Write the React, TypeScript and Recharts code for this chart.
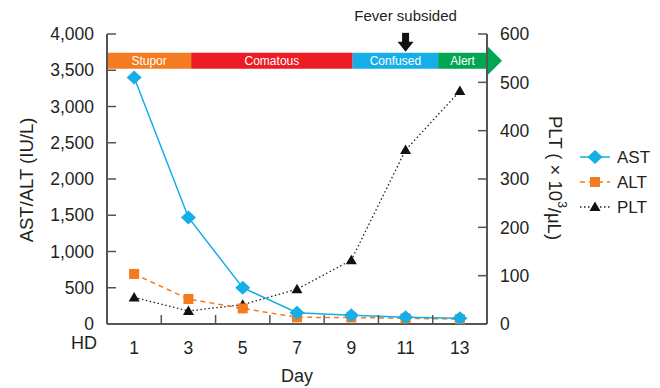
import { LineChart, Line, XAxis, YAxis, Legend, ReferenceArea, ReferenceDot } from "recharts";

const days = [1, 3, 5, 7, 9, 11, 13];
const ast = [3400, 1470, 500, 155, 122, 92, 78];
const alt = [690, 345, 215, 92, 90, 78, 68];
const plt = [55, 27, 40, 72, 132, 360, 482];

const leftTicks = [0, 500, 1000, 1500, 2000, 2500, 3000, 3500, 4000];
const rightTicks = [0, 100, 200, 300, 400, 500, 600];
const gridTicks = [2, 4, 6, 8, 10, 12];

const stages = ["Stupor", "Comatous", "Confused", "Alert"];
const stageFrom = [0, 3.1, 9.05, 12.2];
const stageTo = [3.1, 9.05, 12.2, 14];
const feverDay = 11;
const feverText = "Fever subsided";

const legendOrder = ["AST", "ALT", "PLT"];

const FONT = "'Liberation Sans', Arial, sans-serif";
const INK = "#231f20";
const AXIS = "#555557";
const BLUE = "#16aee8";
const ORANGE = "#f47b20";
const stageColors = ["#f47b20", "#ed1c24", "#16aee8", "#00a651"];

const rows = days.map((d, i) => ({ day: d, AST: ast[i], ALT: alt[i], PLT: plt[i] }));

const diamond = (cx: number, cy: number, key?: any) => (
  <polygon key={key} points={`${cx},${cy - 7} ${cx + 7.5},${cy} ${cx},${cy + 7} ${cx - 7.5},${cy}`} fill={BLUE} />
);
const square = (cx: number, cy: number, key?: any) => (
  <rect key={key} x={cx - 5} y={cy - 5} width={10} height={10} fill={ORANGE} />
);
const triangle = (cx: number, cy: number, key?: any) => (
  <polygon key={key} points={`${cx},${cy - 5.5} ${cx + 5.5},${cy + 4} ${cx - 5.5},${cy + 4}`} fill="#111" />
);
const markers: any = { AST: diamond, ALT: square, PLT: triangle };

// y-axis tick: label outside, short tick mark pointing into the plot
const yTick = (side: "left" | "right") => (p: any) => {
  const dir = side === "left" ? 1 : -1;
  const ax = p.x + dir * 13;
  const label = p.payload.value.toLocaleString("en-US");
  return (
    <g>
      <line x1={ax} x2={ax + dir * 9} y1={p.y} y2={p.y} stroke={AXIS} strokeWidth={1.5} />
      <text x={p.x} y={p.y} dy="0.355em" textAnchor={side === "left" ? "end" : "start"}
        fontSize={17.5} fill={INK} fontFamily={FONT}>{label}</text>
    </g>
  );
};

const gridTick = (p: any) => (
  <line x1={p.x} x2={p.x} y1={p.y} y2={p.y - 9} stroke={AXIS} strokeWidth={1.5} />
);

function LegendBox({ payload }: any) {
  const items = legendOrder.map((name) => (payload || []).find((p: any) => p.value === name)).filter(Boolean);
  return (
    <svg width={85} height={75}>
      {items.map((p: any, i: number) => {
        const y = 12 + i * 25;
        return (
          <g key={p.value}>
            <line x1={2} x2={32} y1={y} y2={y} stroke={p.color} strokeWidth={1.5}
              strokeDasharray={p.payload?.strokeDasharray} />
            {markers[p.value](17, y)}
            <text x={39} y={y} dominantBaseline="central" fontSize={17} fill={INK} fontFamily={FONT}>{p.value}</text>
          </g>
        );
      })}
    </svg>
  );
}

function AlertArrow(props: any) {
  const { x, y, width, height, fill } = props;
  const r = x + width;
  return (
    <path
      d={`M${x},${y} H${r} V${y - 7} L${r + 15},${y + height / 2} L${r},${y + height + 7} V${y + height} H${x} Z`}
      fill={fill}
    />
  );
}

function FeverMark({ cx, cy }: any) {
  return (
    <g>
      <rect x={cx - 3.5} y={cy - 20} width={7} height={10} fill="#111" />
      <polygon points={`${cx - 8},${cy - 11} ${cx + 8},${cy - 11} ${cx},${cy - 1}`} fill="#111" />
      <text x={cx} y={cy - 37} textAnchor="middle" dominantBaseline="central" fontSize={15} fill={INK} fontFamily={FONT}>
        {feverText}
      </text>
    </g>
  );
}

export default function App() {
  const tickStyle = { fontSize: 17.5, fill: INK, fontFamily: FONT };
  return (
    <div style={{ position: "absolute", left: 0, top: 0 }}>
      <LineChart width={660} height={388} data={rows} margin={{ top: 34, right: 0, bottom: 0, left: 0 }}>
        <XAxis xAxisId="grid" dataKey="day" type="number" domain={[0, 14]} ticks={gridTicks} interval={0}
          tick={gridTick} tickLine={false} tickSize={0} tickMargin={0} height={1}
          axisLine={{ stroke: AXIS, strokeWidth: 2 }} />
        <XAxis xAxisId="main" dataKey="day" type="number" domain={[0, 14]} ticks={days} interval={0}
          tickLine={false} axisLine={false} tickSize={0} tickMargin={17} height={63} tick={tickStyle}
          label={{
            position: "center",
            content: ({ viewBox }: any) => (
              <g fontFamily={FONT} fill={INK} fontSize={18}>
                <text x={viewBox.x + viewBox.width / 2} y={viewBox.y + 51} textAnchor="middle" dominantBaseline="central">Day</text>
                <text x={viewBox.x - 10} y={viewBox.y + 18} textAnchor="end" dominantBaseline="central">HD</text>
              </g>
            ),
          }} />
        <YAxis yAxisId="left" domain={[0, 4000]} ticks={leftTicks} interval={0} width={107}
          tickSize={0} tickMargin={13} tick={yTick("left")} tickLine={false}
          axisLine={{ stroke: AXIS, strokeWidth: 2 }}
          label={{
            position: "center",
            content: () => (
              <text x={26} y={180} transform="rotate(-90, 26, 180)" textAnchor="middle" dominantBaseline="central"
                fontSize={18.5} fill={INK} fontFamily={FONT}>AST/ALT (IU/L)</text>
            ),
          }} />
        <YAxis yAxisId="right" orientation="right" domain={[0, 600]} ticks={rightTicks} interval={0} width={173}
          tickSize={0} tickMargin={13} tick={yTick("right")} tickLine={false}
          axisLine={{ stroke: AXIS, strokeWidth: 2 }}
          label={{
            position: "center",
            content: () => (
              <text x={555} y={178} transform="rotate(90, 555, 178)" textAnchor="middle" dominantBaseline="central"
                fontSize={18.5} fill={INK} fontFamily={FONT}>
                PLT ( × 10<tspan dy={-7} fontSize={12}>3</tspan><tspan dy={7}>/μL)</tspan>
              </text>
            ),
          }} />
        {stages.map((s, i) => (
          <ReferenceArea key={s} xAxisId="main" yAxisId="left" x1={stageFrom[i]} x2={stageTo[i]} y1={3520} y2={3740}
            fill={stageColors[i]} fillOpacity={1} stroke="none"
            shape={i === stages.length - 1 ? AlertArrow : undefined}
            label={{ value: s, position: "center", fill: "#fff", fontSize: 12, fontFamily: FONT }} />
        ))}
        <ReferenceDot xAxisId="main" yAxisId="left" x={feverDay} y={3740} shape={FeverMark} />
        <Legend layout="vertical" align="center" verticalAlign="middle" content={LegendBox}
          wrapperStyle={{ left: 578, top: 145, width: 85 }} />
        <Line xAxisId="main" yAxisId="right" dataKey="PLT" name="PLT" stroke="#222" strokeWidth={1.3}
          strokeDasharray="1.5 2.5" isAnimationActive={false}
          dot={(p: any) => triangle(p.cx, p.cy, p.index)} />
        <Line xAxisId="main" yAxisId="left" dataKey="ALT" name="ALT" stroke={ORANGE} strokeWidth={1.5}
          strokeDasharray="5 4" isAnimationActive={false}
          dot={(p: any) => square(p.cx, p.cy, p.index)} />
        <Line xAxisId="main" yAxisId="left" dataKey="AST" name="AST" stroke={BLUE} strokeWidth={1.5}
          isAnimationActive={false}
          dot={(p: any) => diamond(p.cx, p.cy, p.index)} />
      </LineChart>
    </div>
  );
}
